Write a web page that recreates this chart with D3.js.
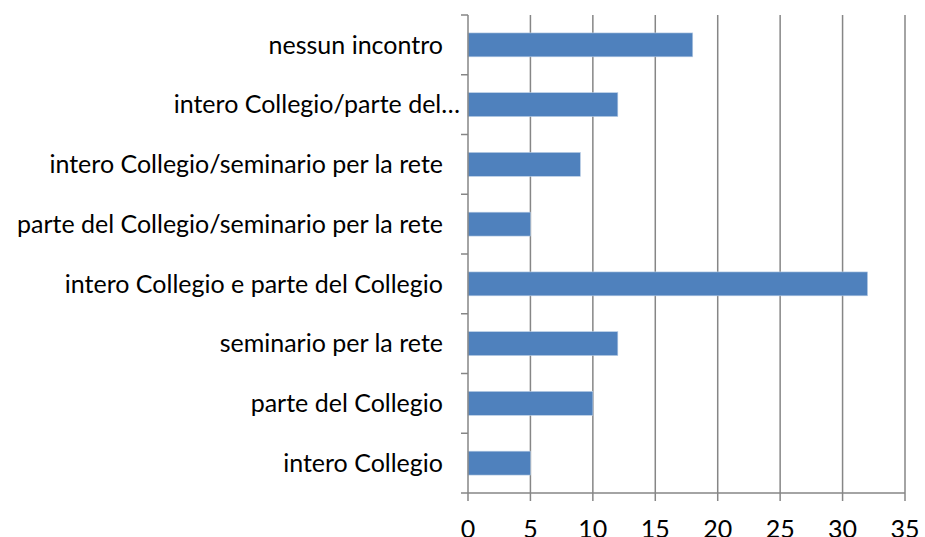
<!DOCTYPE html>
<html>
<head>
<meta charset="utf-8">
<script src="https://cdn.jsdelivr.net/npm/d3@7"></script>
<style>
  body { margin: 0; background: #fff; }
  text { font-family: Lato, "Open Sans", sans-serif; fill: #000; }
</style>
</head>
<body>
<div id="chart"></div>
<script>
var categories = [
  'intero Collegio',
  'parte del Collegio',
  'seminario per la rete',
  'intero Collegio e parte del Collegio',
  'parte del Collegio/seminario per la rete',
  'intero Collegio/seminario per la rete',
  'intero Collegio/parte del\u2026',
  'nessun incontro'
];
var values = [5, 10, 12, 32, 5, 9, 12, 18];
var xTicks = [0, 5, 10, 15, 20, 25, 30, 35];

var w = 925, h = 537;
var margin = { top: 15, right: 20, bottom: 44, left: 468 };
var pw = w - margin.left - margin.right,
    ph = h - margin.top - margin.bottom;

var data = categories.map(function(c, i) { return { cat: c, value: values[i] }; });

var svg = d3.select('#chart').append('svg')
  .attr('width', w)
  .attr('height', h);

var g = svg.append('g')
  .attr('transform', 'translate(' + margin.left + ',' + margin.top + ')');

var x = d3.scaleLinear().domain([0, 35]).range([0, pw]);

// first category at the bottom
var y = d3.scaleBand()
  .domain(categories.slice().reverse())
  .range([0, ph])
  .paddingInner(0.6)
  .paddingOuter(0.3);

// vertical gridlines
g.selectAll('.grid')
  .data(xTicks.slice(1))
  .enter().append('line')
    .attr('x1', function(d) { return x(d); })
    .attr('x2', function(d) { return x(d); })
    .attr('y1', 0)
    .attr('y2', ph)
    .attr('stroke', '#868686')
    .attr('stroke-width', 1.5);

// bars
g.selectAll('.bar')
  .data(data)
  .enter().append('rect')
    .attr('class', 'bar')
    .attr('x', x(0))
    .attr('y', function(d) { return y(d.cat); })
    .attr('width', function(d) { return x(d.value) - x(0); })
    .attr('height', y.bandwidth())
    .attr('fill', '#4f81bd')
    .attr('stroke', '#b9cde5')
    .attr('stroke-width', 0.6);

// y axis with ticks between categories
var step = y.step();
var yAxis = g.append('g');
yAxis.append('line')
  .attr('x1', 0).attr('x2', 0)
  .attr('y1', 0).attr('y2', ph)
  .attr('stroke', '#868686')
  .attr('stroke-width', 1.5);
yAxis.selectAll('.ytick')
  .data(d3.range(categories.length + 1))
  .enter().append('line')
    .attr('x1', -7).attr('x2', 0)
    .attr('y1', function(i) { return i * step; })
    .attr('y2', function(i) { return i * step; })
    .attr('stroke', '#868686')
    .attr('stroke-width', 1.5);
// the truncated label sits closer to the axis, like the original
yAxis.selectAll('.ylabel')
  .data(categories)
  .enter().append('text')
    .attr('x', function(d) { return d.slice(-1) === '\u2026' ? -8 : -25; })
    .attr('y', function(d) { return y(d) + y.bandwidth() / 2; })
    .attr('dy', '0.35em')
    .attr('text-anchor', 'end')
    .style('font-size', '25px')
    .text(function(d) { return d; });

// x axis
var xAxis = g.append('g').attr('transform', 'translate(0,' + ph + ')');
xAxis.append('line')
  .attr('x1', 0).attr('x2', pw)
  .attr('stroke', '#868686')
  .attr('stroke-width', 1.5);
xAxis.selectAll('.xtick')
  .data(xTicks)
  .enter().append('line')
    .attr('x1', function(d) { return x(d); })
    .attr('x2', function(d) { return x(d); })
    .attr('y1', 0).attr('y2', 8)
    .attr('stroke', '#868686')
    .attr('stroke-width', 1.5);
xAxis.selectAll('.xlabel')
  .data(xTicks)
  .enter().append('text')
    .attr('x', function(d) { return x(d); })
    .attr('y', 36)
    .attr('dy', '0.35em')
    .attr('text-anchor', 'middle')
    .style('font-size', '25px')
    .text(function(d) { return d; });
</script>
</body>
</html>
